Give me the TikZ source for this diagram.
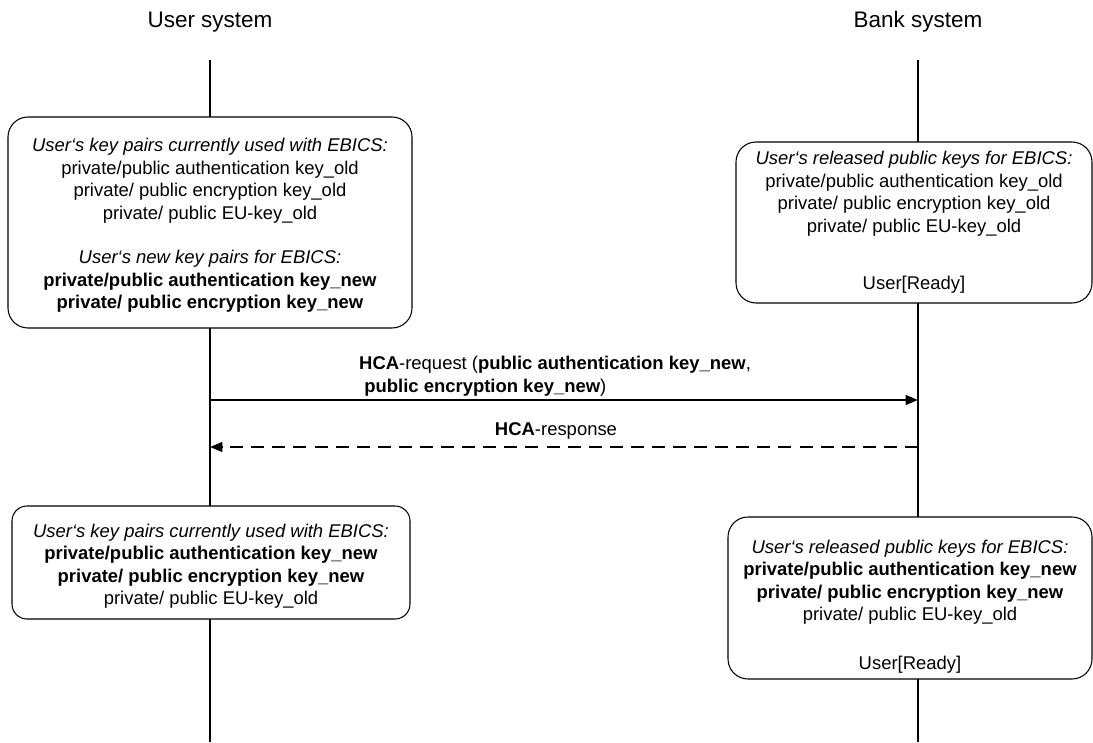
\documentclass[tikz,border=0pt]{standalone}
\usepackage{fontspec}
\setmainfont{Liberation Sans}
\usetikzlibrary{positioning}
\usetikzlibrary{arrows.meta}
\def\thickness{very thick}
\tikzset{
lifeline/.style={line width=0.6pt},
keybox/.style 2 args={draw, line width=0.6pt, fill=white, rounded corners=0.4cm,
	align=center, minimum width=#1, minimum height=#2, inner sep=0pt,
	font=\fontsize{10.5}{12.8}\selectfont},
actor/.style={font=\fontsize{12.8}{15}\selectfont},
msg/.style={\thickness, -{Triangle[length=7pt,width=5.5pt]}},
reply/.style={msg, dash pattern=on 7.4pt off 4.6pt},
msglabel/.style={font=\fontsize{10.5}{12.8}\selectfont},
}
\begin{document}
\begin{tikzpicture}
	\useasboundingbox (0,0) rectangle (21.86,-14.84);
	%
	\node[actor] (user) at (4.2,-0.44) {User system};
	\node[actor] (bank) at (18.36,-0.44) {Bank system};
	\coordinate (utop) at (4.2,-1.2);
	\coordinate (uend) at (4.2,-14.84);
	\coordinate (btop) at (18.36,-1.2);
	\coordinate (bend) at (18.36,-14.84);
	
	%
	\draw[lifeline] (utop) -- (uend);
	\draw[lifeline] (btop) -- (bend);
	
	%
	\node[keybox={8.08cm}{4.22cm}] (ukeys1) at (4.2,-4.45) {\rule{0pt}{11pt}\textit{User‘s key pairs currently used with EBICS:}\\
		private/public authentication key\_old\\
		private/ public encryption key\_old\\
		private/ public EU-key\_old\\[12.5pt]
		\textit{User‘s new key pairs for EBICS:}\\
		\textbf{private/public authentication key\_new}\\
		\textbf{private/ public encryption key\_new}};
	\node[keybox={7.12cm}{3.22cm}] (bkeys1) at (18.28,-4.45) {\textit{User‘s released public keys for EBICS:}\\
		private/public authentication key\_old\\
		private/ public encryption key\_old\\
		private/ public EU-key\_old\\[20pt]
		User[Ready]};
	
	%
	\coordinate (ureq) at (4.2,-8.0);
	\coordinate (breq) at (18.36,-8.0);
	\coordinate (ures) at (4.2,-8.94);
	\coordinate (bres) at (18.36,-8.94);
	\draw[msg] (ureq) -- (breq);
	\draw[reply] (bres) -- (ures);
	\node[msglabel, align=left, anchor=west] (reqlabel) at (7.06,-7.52) {\textbf{HCA}-request (\textbf{public authentication key\_new},\\
		~\textbf{public encryption key\_new})};
	\node[msglabel] (reslabel) at (11.12,-8.62) {\textbf{HCA}-response};
	
	%
	\node[keybox={7.96cm}{2.26cm}, rounded corners=0.3cm] (ukeys2) at (4.22,-11.25) {\rule{0pt}{12pt}\textit{User‘s key pairs currently used with EBICS:}\\
		\textbf{private/public authentication key\_new}\\
		\textbf{private/ public encryption key\_new}\\
		private/ public EU-key\_old};
	\node[keybox={7.28cm}{3.24cm}] (bkeys2) at (18.2,-11.96) {\rule{0pt}{17.5pt}\textit{User‘s released public keys for EBICS:}\\
		\textbf{private/public authentication key\_new}\\
		\textbf{private/ public encryption key\_new}\\
		private/ public EU-key\_old\\[15pt]
		User[Ready]};
\end{tikzpicture}
\end{document}
